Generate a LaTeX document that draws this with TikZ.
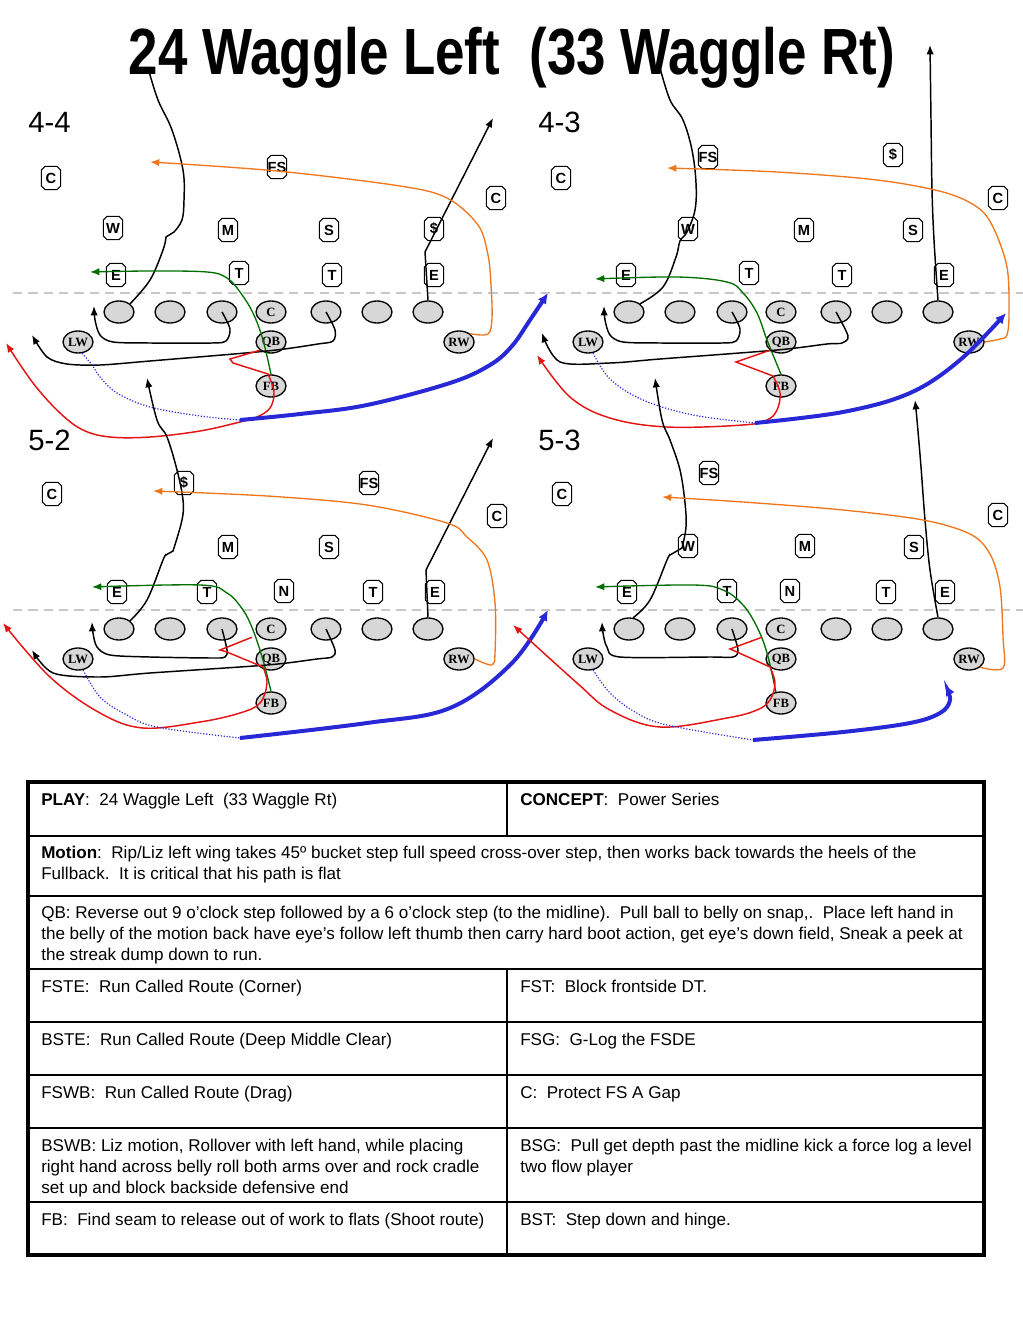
\documentclass[tikz,border=0pt]{standalone}
\usepackage{fontspec}
\setmainfont{Liberation Sans}
\newfontfamily\olfont{Liberation Serif}
\usepackage{graphicx}
\usetikzlibrary{arrows.meta,shapes.geometric,shapes.misc}
\definecolor{dragorange}{RGB}{240,118,28}
\definecolor{leadgreen}{RGB}{0,110,0}
\definecolor{bootred}{RGB}{228,20,20}
\definecolor{motionblue}{RGB}{40,40,215}
\definecolor{losgray}{RGB}{200,200,200}
\definecolor{olfill}{RGB}{215,215,215}

\tikzset{
  lineman/.style={ellipse,draw,fill=olfill,line width=1pt,minimum width=22.5pt,
    minimum height=16.5pt,inner sep=0pt,font=\olfont\bfseries\fontsize{9.5}{10}\selectfont},
  dfn/.style={chamfered rectangle,chamfered rectangle xsep=2.8pt,draw,fill=white,
    line width=.8pt,minimum width=14.5pt,minimum height=17.5pt,inner sep=0pt,
    font=\bfseries\fontsize{11}{12}\selectfont},
  formation/.style={anchor=base west,inner sep=0pt,font=\fontsize{22}{24}\selectfont},
  los/.style={draw=losgray,line width=1.5pt,dash pattern=on 7pt off 4.5pt},
  tip/.style={-{Latex[length=7pt,width=5.5pt]}},
  blk/.style={draw=black,line width=1.1pt},
  drag/.style={draw=dragorange,line width=1pt},
  lead/.style={draw=leadgreen,line width=1pt},
  boot/.style={draw=bootred,line width=1.1pt},
  motion/.style={draw=motionblue,line width=.9pt,dash pattern=on .9pt off 1.3pt},
  streak/.style={draw=motionblue,line width=3pt,-{Latex[length=8pt,width=7.5pt]}},
  cell/.style={anchor=base west,inner sep=0pt,font=\fontsize{12.8}{15.8}\selectfont},
  para/.style={anchor=north west,inner sep=0pt,align=left,font=\fontsize{12.8}{15.8}\selectfont}
}

% offensive front, same in every panel
\newcommand{\offense}{%
  \foreach \x [count=\i] in {119,170,222,271,326,377,428}
    \node[lineman] (ol\i) at (\x,312) {\ifnum\i=4 C\fi};
  \node[lineman] (lw) at (78,342) {LW};
  \node[lineman] (qb) at (271,342) {QB};
  \node[lineman] (rw) at (459,342) {RW};
  \node[lineman] (fb) at (271,386) {FB};
}

\begin{document}
\begin{tikzpicture}[x=0.75pt,y=-0.75pt]
  \useasboundingbox (0,0) rectangle (1023,1319);

  \node[anchor=base,inner sep=0pt,font=\bfseries\fontsize{49}{50}\selectfont] (title) at (512,75)
    {\scalebox{0.81}[1]{24 Waggle Left\ \ (33 Waggle Rt)}};

  % ---- 4-4
  \begin{scope}[name prefix=a-]
    \node[formation] (lbl) at (28,133) {4-4};
    \draw[los] (13,293) -- (513,293);
    \offense
    \foreach \lab/\x/\y [count=\i] in {C/51/178,FS/277/167,C/496/198,W/113/228,M/228/230,S/329/230,
      \$/434/229,E/116/275,T/239/273,T/332/275,E/434/275}
      \node[dfn] (d\i) at (\x,\y) {\makebox[0pt]{\lab}};
    \coordinate (m) at (240,420);
    \draw[blk] plot[smooth,tension=.6] coordinates {(ol1.north east) (150,280) (163,250) (166,237)}
      -- plot[smooth,tension=.6] coordinates {(174,232) (182,220) (184,200) (183,170) (172,130) (158,100) (148,68)};
    \draw[blk,tip] (ol7.north) -- (425,252) -- (493,118);
    \draw[drag,tip] plot[smooth,tension=.55] coordinates {(rw.north east) (488,334) (492,318) (491,285)
      (488,255) (478,225) (447,198) (400,186) (277,171) (150,162)};
    \draw[lead,tip] plot[smooth,tension=.6] coordinates {(fb.north) (263,340) (253,313) (240,292)
      (227,278) (207,272) (150,271) (90,272)};
    \draw[blk,tip] plot[smooth,tension=.5] coordinates {(ol3.center) (230,329) (226,341) (212,343)
      (150,343) (113,342) (100,335) (95,320) (94,306)};
    \draw[blk,tip] plot[smooth,tension=.5] coordinates {(ol5.center) (335,330) (333,341) (318,344)
      (267,351) (150,361) (100,365) (67,364) (47,357) (32,335)};
    \draw[boot,tip] (qb.south west) -- (230,359) -- (233,363) -- plot[smooth,tension=.6] coordinates {
      (268,374) (274,392) (270,408) (257,417) (240,422) (200,431) (150,437) (110,437) (83,430)
      (60,413) (33,383) (6,343)};
    \draw[motion] plot[smooth,tension=.6] coordinates {(lw.-70) (92,365) (100,377) (117,393)
      (150,407) (200,416) (m)};
    \draw[streak] plot[smooth,tension=.6] coordinates {(m) (300,414) (367,405) (450,383) (490,365)
      (512,346) (530,320) (548,293)};
  \end{scope}

  % ---- 4-3
  \begin{scope}[shift={(510,0)},name prefix=b-]
    \node[formation] (lbl) at (28,133) {4-3};
    \draw[los] (0,293) -- (513,293);
    \offense
    \foreach \lab/\x/\y [count=\i] in {C/51/178,FS/198/157,\$/383/155,C/488/198,W/178/229,M/294/230,
      S/403/230,E/116/275,T/239/273,T/332/275,E/434/275}
      \node[dfn] (d\i) at (\x,\y) {\makebox[0pt]{\lab}};
    \coordinate (m) at (245,423);
    \draw[blk] plot[smooth,tension=.6] coordinates {(ol1.north east) (153,287) (166,257) (170,241)
      (177,232) (185,210) (186,183) (182,150) (173,120) (160,100) (150,68)};
    \draw[blk,tip] plot[smooth,tension=.6] coordinates {(ol7.north) (424,240) (422,190) (421,120) (420,45)};
    \draw[drag,tip] plot[smooth,tension=.55] coordinates {(rw.east) (490,339) (497,335) (499,313)
      (497,267) (483,227) (467,207) (433,192) (367,180) (267,172) (157,168)};
    \draw[lead,tip] plot[smooth,tension=.6] coordinates {(fb.north) (257,340) (247,313) (233,293)
      (217,282) (167,277) (85,279)};
    \draw[blk,tip] plot[smooth,tension=.5] coordinates {(ol3.center) (230,329) (226,341) (212,343)
      (150,343) (113,342) (100,335) (95,320) (94,306)};
    \draw[blk,tip] plot[smooth,tension=.5] coordinates {(ol5.center) (338,336) (332,343) (317,344)
      (267,350) (150,359) (100,363) (50,362) (32,333)};
    \draw[boot,tip] (qb.south west) -- (226,362) -- plot[smooth,tension=.6] coordinates {
      (263,376) (270,393) (267,410) (257,420) (233,425) (157,427) (100,418) (60,397) (27,355)};
    \draw[motion] plot[smooth,tension=.6] coordinates {(lw.-65) (100,379) (133,400) (183,415) (m)};
    \draw[streak] plot[smooth,tension=.6] coordinates {(m) (333,412) (400,393) (450,360) (496,313)};
  \end{scope}

  % ---- 5-2
  \begin{scope}[shift={(0,317)},name prefix=c-]
    \node[formation] (lbl) at (28,133) {5-2};
    \draw[los] (13,293) -- (513,293);
    \offense
    \foreach \lab/\x/\y [count=\i] in {C/52/177,\$/184/166,FS/369/166,C/497/199,M/228/230,S/329/230,
      E/117/275,T/207/275,N/284/274,T/373/275,E/435/275}
      \node[dfn] (d\i) at (\x,\y) {\makebox[0pt]{\lab}};
    \coordinate (m) at (240,421);
    \draw[blk,tip] plot[smooth,tension=.6] coordinates {(ol1.north east) (147,283) (163,243) (166,238)}
      -- plot[smooth,tension=.6] coordinates {(173,234) (182,203) (183,183) (177,153) (167,120) (157,103) (147,61)};
    \draw[blk,tip] (ol7.north) -- (426,253) -- (493,121);
    \draw[drag,tip] plot[smooth,tension=.55] coordinates {(rw.east) (492,348) (495,336) (495,286)
      (487,243) (467,220) (447,206) (367,188) (267,179) (153,174)};
    \draw[lead,tip] plot[smooth,tension=.6] coordinates {(fb.north) (263,343) (253,313) (243,293)
      (227,276) (200,268) (92,270)};
    \draw[blk,tip] plot[smooth,tension=.5] coordinates {(ol3.center) (227,333) (225,340) (213,341)
      (150,340) (110,338) (97,330) (93,316) (92,305)};
    \draw[blk,tip] plot[smooth,tension=.5] coordinates {(ol5.center) (335,333) (332,340) (317,342)
      (267,348) (150,356) (100,360) (53,356) (32,333)};
    \draw[boot,tip] ([xshift=-6pt]ol4.south west) -- (220,333) -- (227,335) -- plot[smooth,tension=.6]
      coordinates {(263,350) (267,366) (260,386) (240,396) (200,405) (143,411) (100,396) (50,360) (3,306)};
    \draw[motion] plot[smooth,tension=.6] coordinates {(lw.-65) (100,380) (125,397) (157,410) (m)};
    \draw[streak] plot[smooth,tension=.6] coordinates {(m) (367,406) (450,391) (512,346) (548,293)};
  \end{scope}

  % ---- 5-3
  \begin{scope}[shift={(510,317)},name prefix=d-]
    \node[formation] (lbl) at (28,133) {5-3};
    \draw[los] (0,293) -- (513,293);
    \offense
    \foreach \lab/\x/\y [count=\i] in {C/52/177,FS/199/156,C/488/198,W/178/229,M/295/229,S/404/230,
      E/117/275,T/217/274,N/280/274,T/376/275,E/435/275}
      \node[dfn] (d\i) at (\x,\y) {\makebox[0pt]{\lab}};
    \coordinate (m) at (243,423);
    \draw[blk,tip] plot[smooth,tension=.6] coordinates {(ol1.70) (140,283) (157,243) (160,238)}
      -- plot[smooth,tension=.6] coordinates {(172,231) (176,210) (175,186) (170,153) (160,123) (152,103) (145,61)};
    \draw[blk,tip] plot[smooth,tension=.6] coordinates {(ol7.north) (420,253) (415,203) (411,150)
      (407,103) (405,83)};
    \draw[drag,tip] plot[smooth,tension=.55] coordinates {(rw.south east) (493,351) (493,320) (490,270)
      (480,237) (460,217) (413,203) (333,193) (233,185) (152,180)};
    \draw[lead,tip] plot[smooth,tension=.6] coordinates {(fb.115) (257,336) (247,310) (233,288)
      (213,273) (183,268) (85,270)};
    \draw[blk,tip] plot[smooth,tension=.5] coordinates {(ol3.center) (228,333) (223,340) (200,340)
      (110,340) (97,330) (93,316) (92,305)};
    \draw[boot,tip] ([xshift=-6pt]ol4.south west) -- (220,332) -- (227,335) -- plot[smooth,tension=.6]
      coordinates {(260,350) (265,366) (260,383) (247,393) (217,401) (150,410) (100,393) (67,366) (3,308)};
    \draw[motion] plot[smooth,tension=.6] coordinates {(lw.-65) (100,376) (125,395) (157,408) (m)};
    \draw[streak] plot[smooth,tension=.6] coordinates {(m) (333,415) (400,406) (430,396) (440,383) (435,368)};
  \end{scope}

  % ---- coaching table
  \draw[line width=1pt] \foreach \y in {836,896,969,1022,1075,1128,1202} {(28,\y) -- (984,\y)};
  \draw[line width=1pt] (507,782) -- (507,836) (507,969) -- (507,1255);
  \draw[line width=2.6pt] (28,782) rectangle (984,1255);

  \node[cell] (play) at (41,805) {\textbf{PLAY}:\ \ 24 Waggle Left\ \ (33 Waggle Rt)};
  \node[cell] (concept) at (520,805) {\textbf{CONCEPT}:\ \ Power Series};
  \node[para] (motiontxt) at (41,846) {\textbf{Motion}:\ \ Rip/Liz left wing takes 45º bucket step full speed cross-over step, then works back towards the heels of the\\
    Fullback.\ \ It is critical that his path is flat};
  \node[para] (qbtxt) at (41,906) {QB: Reverse out 9 o’clock step followed by a 6 o’clock step (to the midline).\ \ Pull ball to belly on snap,.\ \ Place left hand in\\
    the belly of the motion back have eye’s follow left thumb then carry hard boot action, get eye’s down field, Sneak a peek at\\
    the streak dump down to run.};
  \node[cell] (fste) at (41,992) {FSTE:\ \ Run Called Route (Corner)};
  \node[cell] (fst) at (520,992) {FST:\ \ Block frontside DT.};
  \node[cell] (bste) at (41,1045) {BSTE:\ \ Run Called Route (Deep Middle Clear)};
  \node[cell] (fsg) at (520,1045) {FSG:\ \ G-Log the FSDE};
  \node[cell] (fswb) at (41,1098) {FSWB:\ \ Run Called Route (Drag)};
  \node[cell] (ctr) at (520,1098) {C:\ \ Protect FS A Gap};
  \node[para] (bswb) at (41,1139) {BSWB: Liz motion, Rollover with left hand, while placing\\
    right hand across belly roll both arms over and rock cradle\\set up and block backside defensive end};
  \node[para] (bsg) at (520,1139) {BSG:\ \ Pull get depth past the midline kick a force log a level\\two flow player};
  \node[cell] (fbtxt) at (41,1225) {FB:\ \ Find seam to release out of work to flats (Shoot route)};
  \node[cell] (bst) at (520,1225) {BST:\ \ Step down and hinge.};
\end{tikzpicture}
\end{document}
